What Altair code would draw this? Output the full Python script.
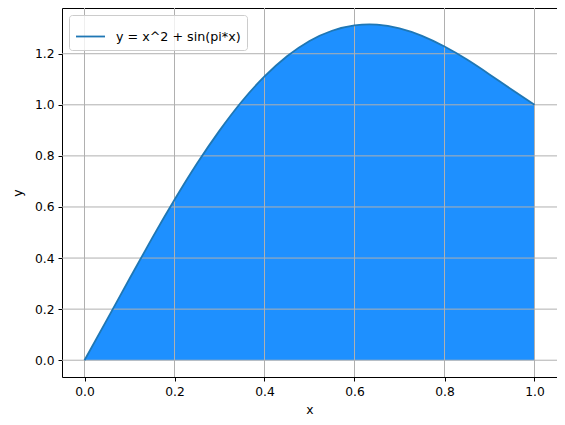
import altair as alt
import pandas as pd

# values
xs = [0.0, 0.05, 0.10, 0.15, 0.20, 0.25, 0.30, 0.35, 0.40, 0.45, 0.50,
      0.55, 0.60, 0.65, 0.70, 0.75, 0.80, 0.85, 0.90, 0.95, 1.00]
ys = [0.0, 0.159, 0.319, 0.477, 0.628, 0.770, 0.899, 1.014, 1.111, 1.190, 1.250,
      1.290, 1.311, 1.314, 1.299, 1.270, 1.228, 1.177, 1.119, 1.059, 1.0]
series_name = "y = x^2 + sin(pi*x)"

x_ticks = [0.0, 0.2, 0.4, 0.6, 0.8, 1.0]
y_ticks = [0.0, 0.2, 0.4, 0.6, 0.8, 1.0, 1.2]

df = pd.DataFrame({"x": xs, "y": ys, "series": [series_name] * len(xs)})
gx = pd.DataFrame({"v": x_ticks})
gy = pd.DataFrame({"v": y_ticks})

xscale = alt.Scale(domain=[-0.05, 1.05], nice=False, zero=False)
yscale = alt.Scale(domain=[-0.0657, 1.379], nice=False, zero=False)

xaxis = alt.Axis(values=x_ticks, format=".1f", title="x", titlePadding=6)
yaxis = alt.Axis(values=y_ticks, format=".1f", title="y", titlePadding=10)

area = alt.Chart(df).mark_area(color="#1e90ff", opacity=1, interpolate="natural").encode(
    x=alt.X("x:Q", scale=xscale, axis=xaxis),
    y=alt.Y("y:Q", scale=yscale, axis=yaxis),
)

grid_x = alt.Chart(gx).mark_rule(color="#b0b0b0", strokeWidth=1).encode(
    x=alt.X("v:Q", scale=xscale)
)
grid_y = alt.Chart(gy).mark_rule(color="#b0b0b0", strokeWidth=1).encode(
    y=alt.Y("v:Q", scale=yscale)
)

line = alt.Chart(df).mark_line(strokeWidth=1.8, interpolate="natural").encode(
    x=alt.X("x:Q", scale=xscale),
    y=alt.Y("y:Q", scale=yscale),
    color=alt.Color(
        "series:N",
        scale=alt.Scale(domain=[series_name], range=["#1f77b4"]),
        legend=alt.Legend(
            title=None,
            orient="none",
            legendX=7,
            legendY=7,
            strokeColor="#cccccc",
            fillColor="rgba(255,255,255,0.8)",
            cornerRadius=3,
            padding=6,
            symbolType="stroke",
            symbolSize=841,
            symbolStrokeWidth=1.8,
            labelFont="DejaVu Sans",
            labelFontSize=12.7,
            labelColor="black",
            labelOffset=10,
        ),
    ),
)

chart = alt.layer(area, grid_x, grid_y, line).properties(
    width=495,
    height=369,
    autosize=alt.AutoSizeParams(type="none"),
    padding={"left": 54, "top": 0, "right": 0, "bottom": 40},
).configure_view(
    stroke="black", strokeWidth=1
).configure_axis(
    grid=False,
    domain=False,
    labelFont="DejaVu Sans",
    labelFontSize=12.3,
    labelColor="black",
    tickColor="black",
    tickSize=4,
    tickWidth=1,
    labelPadding=4,
    titleFont="DejaVu Sans",
    titleFontSize=12.3,
    titleFontWeight="normal",
    titleColor="black",
)

chart.save("out.html", embed_options={"renderer": "svg", "actions": False})
